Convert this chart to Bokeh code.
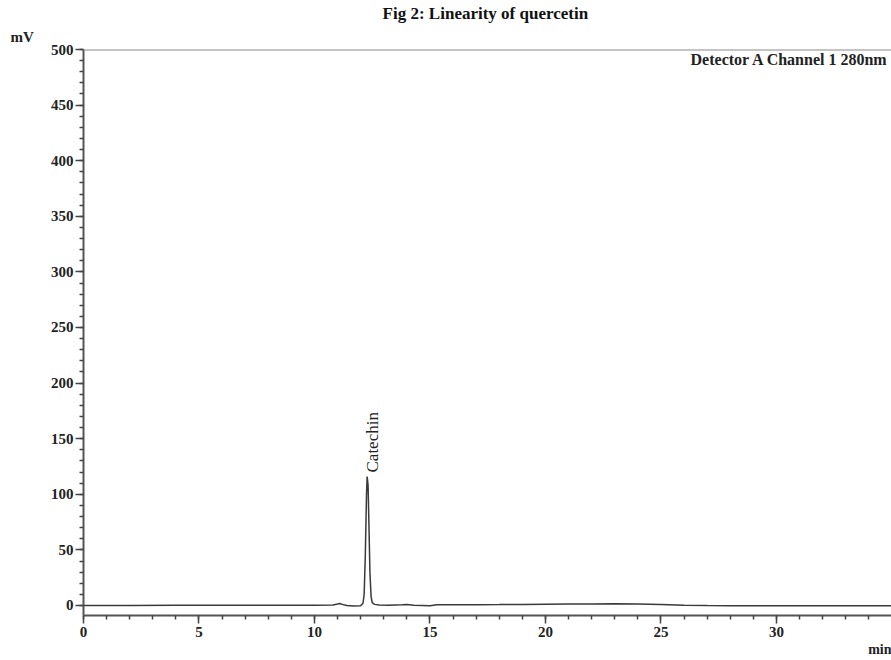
import math
from bokeh.plotting import figure
from bokeh.models import Range1d, SingleIntervalTicker, Label, Span, ColumnDataSource, Title
from bokeh.embed import file_html
from bokeh.resources import INLINE

# ---- data (time in min, signal in mV) ----
time_min = [0, 2, 4, 6, 8, 10, 10.8, 11.0, 11.1, 11.2, 11.4, 11.7, 12.0, 12.1,
            12.15, 12.2, 12.25, 12.28, 12.32, 12.36, 12.4, 12.45, 12.5, 12.6,
            12.8, 13.2, 13.8, 14.0, 14.3, 15.0, 15.3, 16, 17, 18, 19, 20, 21,
            22, 23, 24, 25, 26, 27, 28, 30, 32, 35]
signal_mv = [0.0, 0.0, 0.2, 0.3, 0.3, 0.3, 0.5, 1.3, 1.8, 1.0, 0.0, -0.5,
             -0.3, 2.0, 10.0, 45.0, 98.0, 116.0, 108.0, 70.0, 30.0, 8.0, 2.5,
             1.0, 0.5, 0.3, 0.6, 1.0, 0.3, -0.3, 0.6, 0.7, 0.7, 0.8, 1.0, 1.2,
             1.3, 1.4, 1.6, 1.3, 0.8, 0.3, 0.0, -0.2, -0.3, -0.3, -0.3]

peak_name = "Catechin"
peak_time = 12.49
peak_label_y = 119.6

x_ticks_interval = 5
y_ticks_interval = 50

FONT = "Liberation Serif"

p = figure(width=891, height=660, output_backend="svg", toolbar_location=None,
           x_range=Range1d(0, 34.98), y_range=Range1d(-9, 500),
           min_border_left=83, min_border_right=0, min_border_top=49,
           min_border_bottom=45)
p.outline_line_color = None
p.xgrid.visible = False
p.ygrid.visible = False
p.background_fill_color = "white"
p.border_fill_color = "white"

src = ColumnDataSource(dict(t=time_min, s=signal_mv))
p.line("t", "s", source=src, line_color="#3a3a3a", line_width=1.5)

# top frame line
p.add_layout(Span(location=500, dimension="width", line_color="#8a8a8a", line_width=2))

for ax, interval in ((p.xaxis[0], x_ticks_interval), (p.yaxis[0], y_ticks_interval)):
    ax.ticker = SingleIntervalTicker(interval=interval, num_minor_ticks=5)
    ax.axis_line_color = "#555555"
    ax.axis_line_width = 2
    ax.major_tick_line_color = "#444444"
    ax.minor_tick_line_color = "#444444"
    ax.major_tick_line_width = 1.5
    ax.minor_tick_line_width = 1.5
    ax.major_tick_in = 0
    ax.minor_tick_in = 0
    ax.major_tick_out = 8
    ax.minor_tick_out = 4
    ax.major_label_text_font = FONT
    ax.major_label_text_font_style = "bold"
    ax.major_label_text_font_size = "15px"
    ax.major_label_text_color = "#222222"

p.yaxis[0].major_label_standoff = 2
p.xaxis[0].major_label_standoff = 3

# titles placed in the side panels so they are not clipped by the frame
p.add_layout(Title(text="mV", align="left", offset=-73, standoff=9,
                   text_font=FONT, text_font_style="bold", text_font_size="15px",
                   text_color="#222222"), "above")
p.add_layout(Title(text="Fig  2: Linearity of quercetin", align="center", offset=-44,
                   standoff=0, text_font=FONT, text_font_style="bold",
                   text_font_size="17px", text_color="#111111"), "above")
p.add_layout(Title(text="min", align="right", offset=0, standoff=0,
                   text_font=FONT, text_font_style="bold", text_font_size="14px",
                   text_color="#222222"), "below")

p.add_layout(Label(x=26.28, y=498.5, text="Detector A Channel 1 280nm", text_font=FONT,
                   text_font_style="bold", text_font_size="16px", text_align="left",
                   text_baseline="top", text_color="#222222"))
p.add_layout(Label(x=peak_time, y=peak_label_y, text=peak_name, angle=math.pi / 2,
                   text_font=FONT, text_font_size="17px", text_align="left",
                   text_baseline="middle", text_color="#222222"))

open("out.html", "w").write(file_html(p, INLINE))
